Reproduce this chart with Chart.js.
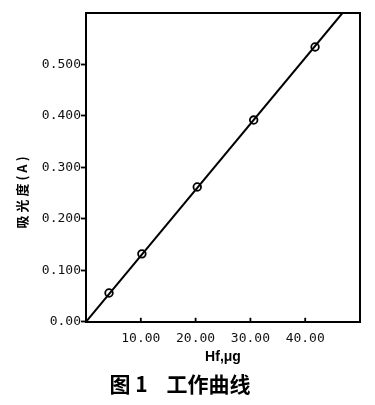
<!DOCTYPE html>
<html><head><meta charset="utf-8">
<script src="https://cdn.jsdelivr.net/npm/chart.js@4.4.0/dist/chart.umd.min.js"></script>
<style>html,body{margin:0;padding:0;background:#fff;}#wrap{width:375px;height:405px;}</style>
</head><body><div id="wrap"><canvas id="c" width="375" height="405"></canvas></div>
<script>
const hfX = [4.2, 10.2, 20.3, 30.6, 41.8];
const absY = [0.056, 0.132, 0.262, 0.392, 0.534];
const fitX = [0, 46.8];
const fitY = [0, 0.60];
const xTicks = [10, 20, 30, 40];
const xTickLabels = ['10.00', '20.00', '30.00', '40.00'];
const yTicks = [0, 0.1, 0.2, 0.3, 0.4, 0.5];
const yTickLabels = ['0.00', '0.100', '0.200', '0.300', '0.400', '0.500'];
const xTitle = 'Hf,μg';
const yTitle = '吸光度(A)';
const caption = '图 1    工作曲线';

const framePlugin = {
  id: 'frame',
  afterDraw(chart) {
    const ctx = chart.ctx, a = chart.chartArea;
    ctx.save();
    ctx.strokeStyle = '#000';
    ctx.lineWidth = 2;
    ctx.beginPath();
    ctx.moveTo(a.left, a.top);
    ctx.lineTo(a.right, a.top);
    ctx.lineTo(a.right, a.bottom);
    ctx.stroke();
    const xs = chart.scales.x;
    ctx.lineWidth = 1.8;
    xTicks.forEach(v => {
      const px = xs.getPixelForValue(v);
      ctx.beginPath();
      ctx.moveTo(px, a.bottom);
      ctx.lineTo(px, a.bottom - 4);
      ctx.stroke();
    });
    ctx.translate(22, 191);
    ctx.rotate(-Math.PI / 2);
    ctx.font = 'bold 13px "Noto Sans CJK SC"';
    ctx.fillStyle = '#000';
    ctx.textAlign = 'center';
    ctx.textBaseline = 'middle';
    try { ctx.letterSpacing = '3px'; } catch (e) {}
    ctx.fillText(yTitle, 0, 0);
    ctx.restore();
  }
};

new Chart(document.getElementById('c'), {
  type: 'scatter',
  data: {
    datasets: [
      {
        type: 'line',
        data: fitX.map((x, i) => ({x: x, y: fitY[i]})),
        borderColor: '#000',
        borderWidth: 2,
        pointRadius: 0,
        fill: false,
        tension: 0
      },
      {
        data: hfX.map((x, i) => ({x: x, y: absY[i]})),
        showLine: false,
        pointStyle: 'circle',
        pointRadius: 3.8,
        pointBorderWidth: 1.8,
        pointBorderColor: '#000',
        pointBackgroundColor: '#fff'
      }
    ]
  },
  options: {
    responsive: false,
    animation: false,
    devicePixelRatio: 1,
    layout: {padding: {top: 13, right: 15, bottom: 8, left: 0}},
    plugins: {
      legend: {display: false},
      tooltip: {enabled: false},
      title: {
        display: true,
        position: 'bottom',
        text: caption,
        color: '#000',
        font: {family: '"Noto Sans CJK SC"', size: 21, weight: 'bold'},
        padding: 0
      }
    },
    scales: {
      x: {
        type: 'linear',
        min: 0,
        max: 50,
        afterBuildTicks: s => { s.ticks = xTicks.map(v => ({value: v})); },
        afterFit: s => { s.height = 50; },
        grid: {display: false, drawTicks: false},
        border: {display: true, color: '#000', width: 2},
        ticks: {
          callback: v => { const i = xTicks.indexOf(v); return i >= 0 ? xTickLabels[i] : ''; },
          font: {family: '"DejaVu Sans Mono"', size: 13},
          color: '#111',
          padding: 9,
          maxRotation: 0,
          autoSkip: false
        },
        title: {
          display: true,
          text: xTitle,
          color: '#000',
          font: {family: '"Liberation Sans"', size: 14, weight: 'bold'},
          padding: {top: 0, bottom: 6}
        }
      },
      y: {
        type: 'linear',
        min: 0,
        max: 0.6,
        afterBuildTicks: s => { s.ticks = yTicks.map(v => ({value: v})); },
        afterFit: s => { s.width = 86; },
        grid: {drawOnChartArea: false, drawTicks: true, tickLength: 5, tickColor: '#000', tickWidth: 1.8},
        border: {display: true, color: '#000', width: 2},
        ticks: {
          callback: v => { const i = yTicks.findIndex(t => Math.abs(t - v) < 1e-9); return i >= 0 ? yTickLabels[i] : ''; },
          font: {family: '"DejaVu Sans Mono"', size: 13},
          color: '#111',
          padding: 0,
          autoSkip: false
        }
      }
    }
  },
  plugins: [framePlugin]
});
</script>
</body></html>
